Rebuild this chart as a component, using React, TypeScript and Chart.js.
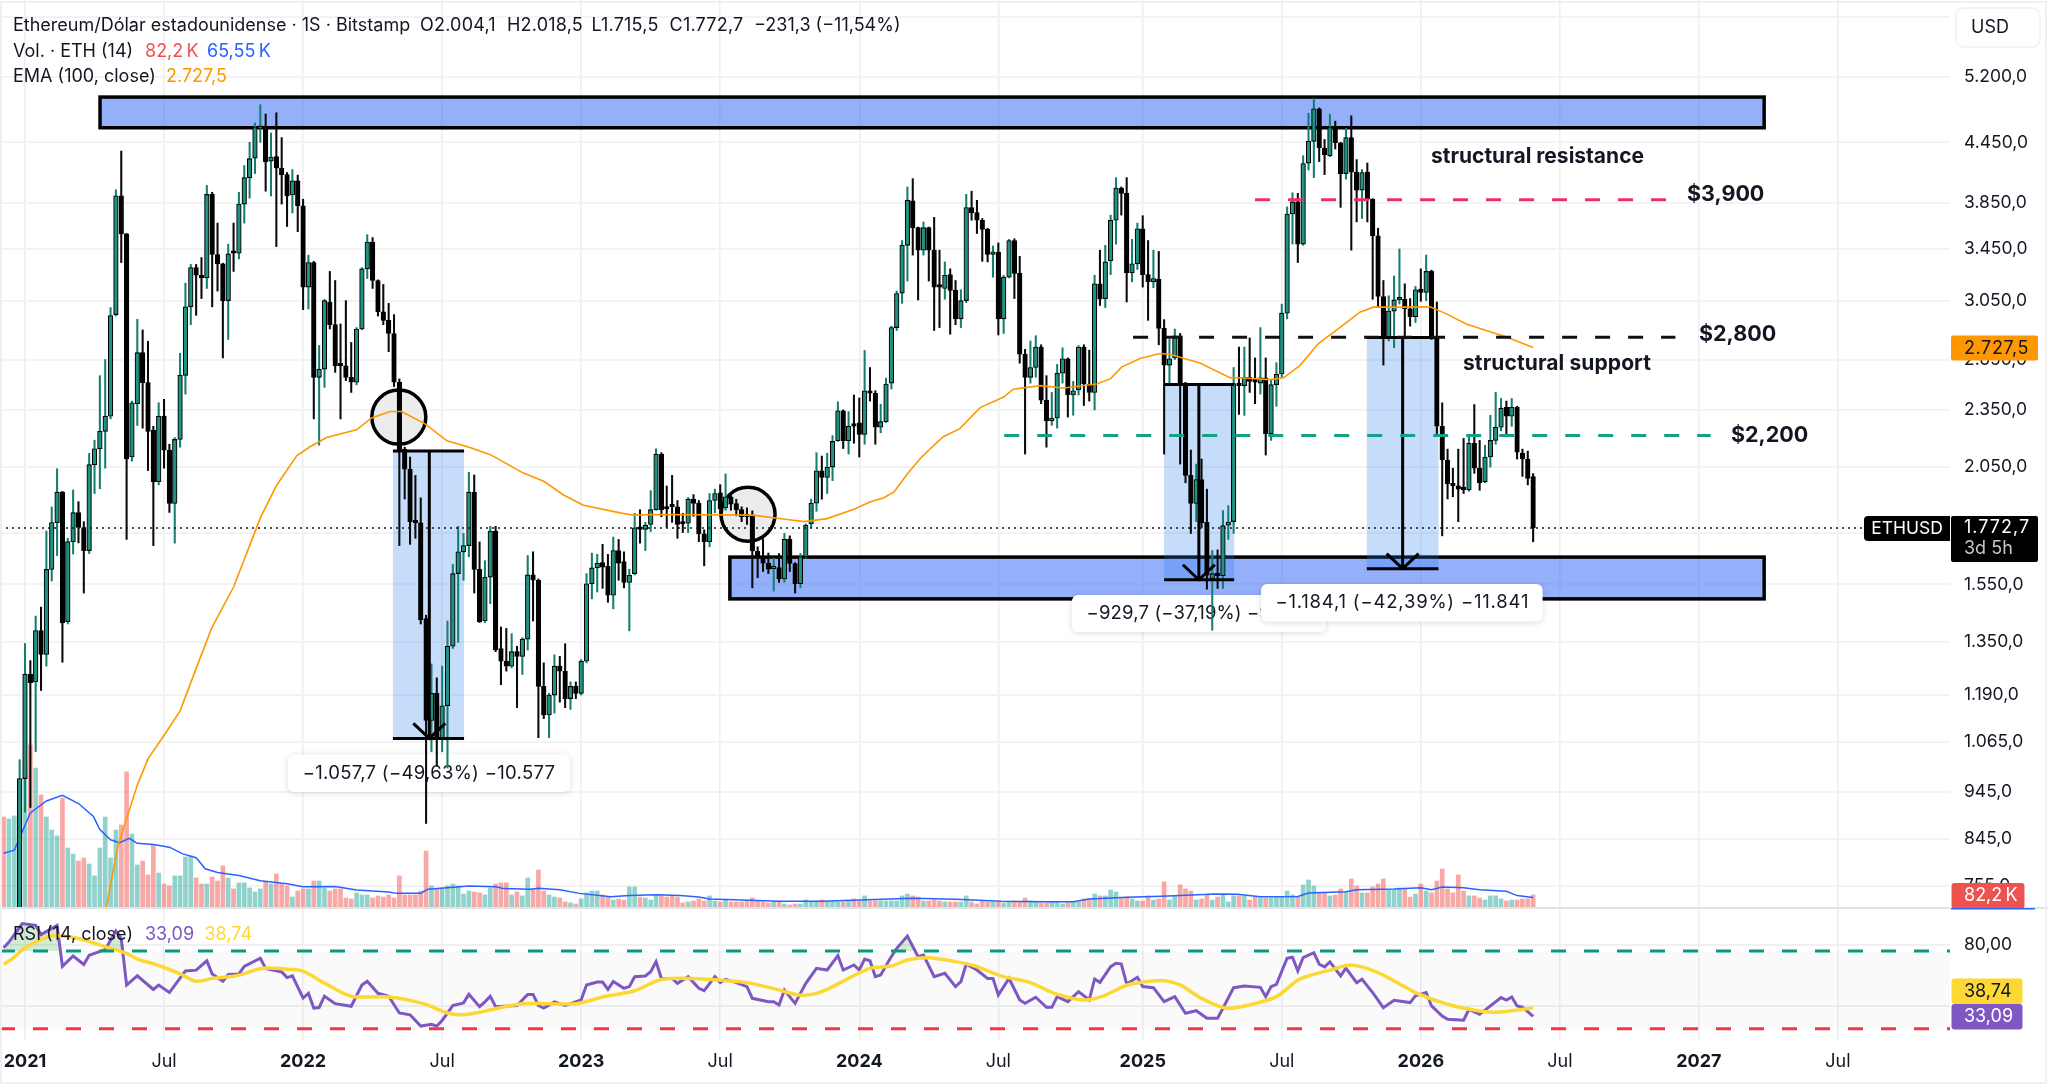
import React, { useEffect, useRef } from "react";
import { Chart, registerables } from "chart.js";

Chart.register(...registerables);

const firstWeek = "2020-12-07";
const tickDates = ["2021-01-04","2021-07-05","2022-01-03","2022-07-04","2023-01-02","2023-07-03","2024-01-01","2024-07-01","2025-01-06","2025-07-07","2026-01-05","2026-07-06","2027-01-04","2027-07-05"];
const tickLabels = ["2021","Jul","2022","Jul","2023","Jul","2024","Jul","2025","Jul","2026","Jul","2027","Jul"];
const priceTicks = [6000,5200,4450,3850,3450,3050,2650,2350,2050,1750,1550,1350,1190,1065,945,845,755];
const rsiTicks = [80,40];

const opens = [
600,585,640,683,975,1251,1228,1388,1311,1606,
1796,1931,1418,1716,1839,1775,1680,2062,2142,2233,
2315,2950,3917,3577,2100,2385,2694,2508,2240,1980,
2315,2135,1880,2190,2552,3005,3300,3240,3220,3930,
3405,3330,3050,3425,3415,3840,4090,4285,4600,4590,
4255,4300,4185,4120,3925,4060,3825,3150,3340,2540,
2590,3040,2880,2620,2610,2540,2510,2850,3290,3507,
3200,2970,2910,2820,2510,2140,2040,1803,1795,1428,
1120,1195,1075,1160,1337,1590,1675,1700,1931,1606,
1420,1577,1760,1330,1290,1275,1320,1305,1360,1585,
1565,1215,1135,1190,1275,1260,1180,1215,1195,1290,
1552,1612,1632,1618,1510,1680,1636,1557,1590,1774,
1767,1788,1852,2114,1860,1868,1865,1793,1793,1900,
1881,1748,1716,1893,1928,1860,1910,1879,1852,1830,
1830,1677,1655,1630,1609,1613,1570,1727,1629,1552,
1655,1790,1881,2032,2000,2050,2183,2345,2183,2275,
2278,2216,2460,2445,2255,2285,2505,2860,3105,3480,
3870,3630,3440,3630,3440,3155,3140,3245,3125,2920,
3050,3808,3763,3695,3615,3406,3425,2920,3225,3520,
3255,2684,2540,2600,2730,2405,2290,2305,2565,2655,
2435,2465,2730,2500,2450,3175,3065,3355,3695,3990,
3940,3260,3330,3620,3245,3190,3210,2855,2615,2660,
2805,2505,2010,1880,1990,1797,1572,1590,1582,1785,
1800,2503,2490,2540,2530,2505,2537,2220,2496,2560,
2960,3750,3860,3490,4235,4460,4820,4390,4310,4620,
4445,4130,4500,4145,3970,4145,3885,3560,3080,2790,
2975,3055,3060,2990,2935,3135,3110,3270,2790,2260,
2085,1970,1960,1948,1942,2170,2045,1980,2100,2185,
2255,2365,2315,2365,2120,2090,2004.1];
const closes = [
585,640,683,975,1251,1226,1388,1311,1606,1796,
1931,1414,1716,1839,1775,1680,2062,2142,2233,2315,
2943,3917,3577,2090,2390,2694,2508,2233,1980,2315,
2135,1880,2190,2552,3005,3300,3240,3220,3930,3405,
3330,3050,3410,3415,3840,4090,4280,4610,4612,4250,
4297,4185,4120,3915,4060,3825,3150,3340,2540,2590,
3050,2880,2610,2610,2540,2510,2850,3290,3507,3200,
2970,2910,2820,2510,2130,2040,1800,1795,1424,1120,
1195,1075,1160,1337,1590,1675,1700,1931,1606,1418,
1577,1760,1325,1290,1275,1320,1305,1360,1585,1565,
1215,1135,1190,1275,1260,1180,1215,1195,1290,1552,
1612,1630,1615,1510,1680,1630,1557,1584,1774,1767,
1785,1852,2114,1852,1855,1865,1788,1790,1899,1880,
1748,1716,1893,1925,1856,1910,1877,1852,1821,1821,
1679,1655,1630,1607,1613,1570,1726,1629,1552,1655,
1785,1881,2032,2000,2050,2180,2345,2183,2260,2260,
2216,2460,2445,2255,2285,2500,2860,3102,3480,3876,
3630,3440,3630,3440,3150,3150,3240,3125,2920,3050,
3808,3763,3695,3615,3406,3426,2920,3225,3520,3255,
2684,2540,2600,2730,2405,2290,2305,2565,2655,2435,
2460,2730,2500,2450,3175,3060,3345,3695,3990,3940,
3260,3330,3620,3245,3190,3215,2855,2615,2655,2805,
2505,2010,1880,1990,1795,1584,1590,1582,1783,1798,
2503,2490,2540,2515,2510,2537,2220,2496,2558,2960,
3750,3860,3490,4230,4460,4820,4390,4320,4610,4445,
4130,4500,4145,3970,4140,3885,3560,3080,2790,2975,
3055,3065,2990,2935,3130,3110,3270,2790,2260,2085,
1970,1960,1945,1943,2170,2045,1975,2100,2185,2255,
2360,2315,2365,2125,2090,1995,1772.7];
const highs = [
610,690,700,1020,1346,1292,1437,1468,1760,1864,
2042,1935,1730,1941,1888,1800,2118,2186,2550,2650,
3000,3973,4358,3580,2400,2917,2844,2768,2260,2390,
2410,2165,2200,2690,3180,3325,3325,3380,4015,3950,
3670,3335,3490,3670,3950,4210,4450,4660,4868,4760,
4550,4775,4500,4140,4170,4115,3885,3400,3350,2740,
3060,3270,3200,2885,3050,2760,2860,3300,3570,3545,
3205,3170,3030,2950,2530,2150,2100,2010,1905,1440,
1282,1240,1275,1420,1625,1780,1750,2025,2012,1715,
1640,1780,1780,1400,1395,1378,1337,1365,1660,1675,
1570,1285,1195,1310,1305,1345,1228,1228,1295,1590,
1670,1665,1705,1665,1735,1725,1675,1607,1836,1852,
1797,1938,2142,2122,1960,2010,1893,1836,1907,1920,
1893,1765,1925,1945,1966,2017,1920,1899,1865,1860,
1847,1695,1728,1670,1650,1668,1750,1740,1632,1668,
1790,1899,2122,2105,2119,2210,2396,2350,2340,2435,
2418,2708,2600,2460,2382,2535,2870,3120,3520,4000,
4080,3635,3680,3635,3720,3440,3345,3290,3200,3130,
3930,3960,3875,3710,3625,3475,3500,3240,3530,3535,
3390,2715,2770,2805,2745,2550,2450,2620,2725,2660,
2515,2740,2745,2710,3240,3440,3480,3740,4090,4000,
4090,3530,3670,3735,3520,3440,3430,2915,2780,2850,
2820,2510,2135,2065,2090,1945,1680,1683,1848,1870,
2600,2730,2730,2790,2660,2860,2660,2525,2630,3025,
3815,3945,3940,4310,4770,4940,4830,4480,4760,4680,
4450,4600,4740,4270,4170,4235,3890,3625,3200,3085,
3235,3450,3175,3065,3155,3290,3400,3280,3040,2390,
2140,2045,2140,2195,2205,2380,2185,2160,2320,2450,
2415,2400,2415,2370,2140,2130,2018.5];
const lows = [
530,580,560,670,900,910,1040,1203,1275,1562,
1660,1287,1410,1666,1711,1518,1668,1925,1947,2045,
2300,2940,3340,1725,2080,2264,2250,2033,1700,1965,
2045,1840,1710,2150,2440,2880,2945,3065,3140,3005,
3120,2660,2780,3270,3370,3670,3895,4130,4450,3960,
3915,3470,3840,3640,3760,3595,2985,2990,2300,2160,
2480,2850,2570,2300,2520,2450,2495,2845,3215,3140,
2940,2880,2700,2485,1700,1900,1705,1730,1410,876,
1040,1005,1040,1000,1330,1350,1565,1655,1518,1415,
1415,1480,1320,1220,1260,1270,1155,1250,1325,1420,
1075,1125,1075,1140,1170,1155,1150,1180,1190,1285,
1497,1522,1535,1485,1462,1565,1537,1387,1585,1710,
1680,1758,1850,1821,1776,1797,1730,1754,1754,1823,
1716,1620,1695,1838,1823,1850,1850,1825,1800,1788,
1537,1575,1598,1590,1525,1557,1557,1598,1518,1537,
1650,1774,1845,1899,1925,1985,2180,2143,2115,2170,
2100,2165,2400,2165,2225,2280,2470,2840,3030,3196,
3400,3055,3400,3196,2840,2860,3060,2815,2880,2860,
3035,3695,3580,3350,3345,3225,2810,2820,3220,3065,
2627,2115,2505,2540,2385,2150,2265,2250,2505,2310,
2320,2435,2375,2400,2350,3015,3000,3245,3490,3740,
3040,3190,3285,3150,2910,3145,2745,2115,2500,2650,
2065,1975,1750,1800,1775,1532,1389,1535,1535,1725,
1750,2325,2320,2450,2385,2440,2110,2185,2370,2540,
2920,3490,3340,3480,4165,4090,4250,4120,4300,4380,
3810,4075,3440,3680,3710,3680,3060,3005,2615,2770,
2725,3025,2790,2870,2895,3045,3050,2780,2220,1740,
1900,1910,1800,1925,1935,2020,1940,1975,2050,2165,
2235,2220,2260,2090,2005,1965,1715.5];
const volumesK = [
573,561,580,599,914,1027,882,712,573,491,
454,693,378,340,296,315,277,202,378,573,
315,491,523,857,466,271,296,208,397,220,
151,139,202,202,321,328,189,151,151,195,
170,265,189,120,158,158,126,101,120,164,
151,214,151,139,69,107,120,120,170,170,
126,107,120,120,63,57,95,82,82,63,
76,69,82,63,202,82,82,82,107,359,
139,120,120,139,151,139,88,107,101,95,
82,126,151,158,158,82,101,76,189,120,
239,107,82,69,63,38,32,25,57,95,
107,107,
82,69,50,57,50,132,132,69,63,50,
76,76,69,76,69,32,38,44,57,44,
76,44,38,50,38,38,38,44,63,44,
38,32,38,38,25,19,25,25,50,38,
38,50,38,38,38,38,44,57,44,76,
44,44,44,44,44,44,76,88,76,69,
44,44,50,44,38,38,38,38,76,38,
25,44,38,38,38,32,38,44,38,63,
44,38,32,32,38,38,25,32,38,38,
57,57,88,76,76,113,101,63,69,57,
44,44,76,50,57,164,50,76,145,120,
107,50,57,82,50,69,82,38,76,76,
76,50,69,63,63,63,69,69,107,82,
69,
145,176,139,95,95,76,82,120,101,183,
139,95,95,132,151,183,113,113,126,120,
69,88,151,107,95,170,246,120,95,208,
107,76,76,63,50,76,76,57,44,50,
50,57,57,82.2];

const volMaWeeks = [0,2,3.5,5,8,11,14,16.8,18,20,21.7,23.5,25,28,31,33.5,36,37.7,40,44,48,53,56,62,66,72,73.5,78,79.3,83.5,87,92,93.5,98.5,100,104,107.7,113.5,117,122,126.5,130,132,136.5,145,153,161.5,170,178,182.5,186.5,195,200,203,210,216.5,220,226.5,230.7,235,242,244,251,253,260,265,267,269,273,276,281,283,286];
const volMaK = [345,364,482,599,674,710,658,576,494,430,411,439,407,400,383,341,317,247,223,204,172,153,134,136,113,101,92,92,118,129,139,134,122,118,125,115,92,70,78,84,78,69,57,52,42,42,52,61,55,48,42,40,40,57,67,74,78,88,86,71,73,94,103,115,120,128,115,132,128,115,105,78,65.55];

const emaWeeks = [19.2,21.4,23.5,25,27,30.2,33,36.1,38.9,43,46,48,51,54.8,57.3,60.4,66,68.8,72.3,74.4,78.8,82.9,87.2,91,97.2,101,104.7,108.4,115.3,117.8,121.5,130.8,140,146.5,149.7,154,159,162,164.6,166.5,169,171.7,173.3,175.7,178.8,182.6,187,188.8,193.8,198.2,204.4,207,209.1,212.5,216.2,218,223.7,229.3,231.2,236.8,239.3,242.4,245.8,249.9,253.6,256.1,262.3,266.7,269.8,273.5,281,286];
const emaValues = [716,831,904,960,1022,1085,1146,1272,1396,1540,1700,1816,1961,2106,2152,2200,2241,2305,2341,2341,2273,2183,2148,2112,2021,1982,1918,1872,1838,1828,1831,1830,1828,1809,1800,1813,1854,1886,1906,1932,2018,2101,2143,2204,2247,2363,2423,2469,2490,2476,2500,2532,2604,2656,2688,2684,2628,2538,2537,2526,2537,2612,2751,2862,2967,3003,3003,3005,2955,2885,2796,2727.5];

const rsiWeeks = [0,1,3.5,6,7,10,11,13,15,16,19,21,22,23,25,28,29,31,34,36,38,39,41,42,44,45,48,49,52,53,54,56,57,58,59,60,62,65,67,68,70,72,74,76,78,80,81,82,84,86,87,89,90,91,92,96,98,99,100,101,103,105,106,108,109,111,112,113,114,116,117,118,120,121,122,123,125,126,128,130,131,133,134,135,137,139,140,143,144,145,146,148,150,152,154,156,157,159,160,161,162,163,164,166,167,169,171,172,174,176,178,179,180,182,184,185,186,188,190,191,193,195,196,197,199,201,203,204,205,207,208,209,210,212,213,215,217,219,221,223,225,227,228,230,232,235,236,237,238,240,241,242,243,245,246,247,248,250,251,253,254,256,258,260,263,264,266,267,269,270,273,274,276,280,281,282,283,284,286];
const rsiValues = [78.2,81.9,94.1,92.9,86.8,92.9,66,72.8,67.2,73.3,77,89.2,84.3,53.7,59.8,50.8,53.7,48.8,63,63.5,69.6,61,56.2,60.6,61,66,71.3,64.7,62.3,58.6,59.8,45.2,48.3,38.6,39,46.4,41.5,39.8,53.7,56.2,48.3,46.4,35.4,34.2,26.8,28,26.8,30.5,40.3,42,47.6,39.5,42.7,46.4,39.5,40.3,47.6,47.6,40.3,38.6,42.7,40.3,41.5,44,53.7,55.7,55.7,50.9,56,51.6,52.7,59.2,59.7,62.5,69.1,58.1,58.1,54.9,59.2,51.6,50,59.2,55.3,57.5,55.3,52.7,45,42.8,42.8,40.6,50.5,41.7,54.9,64.7,63.6,73,63.6,66.9,63.6,70.8,69.7,59.2,60.3,72.4,77.8,85.9,72.4,73.4,59.2,61.4,52.7,56,67.5,63.6,58.1,58.1,47.2,58.1,43.9,41.7,45.7,39.1,39.1,46.1,42.8,49.4,43.9,57.7,55.5,65.8,68,67.5,54.4,58.8,52.7,52,42.8,46.1,35.2,36.9,31.9,31.9,38.5,52,53.1,52.2,46.1,52.7,54.2,71.3,72,63,71.8,75,67.4,65.6,68.9,59.7,64.8,55.3,57.5,48.8,38.9,43.7,42.2,46.6,48.8,40,33.4,31.2,30.6,37.8,34.5,45.5,43.9,45.9,40,39.3,33.09];
const rsiMaWeeks = [0,2,4,9,14,18.5,23,25,28.5,33,36,39,43.5,48.5,53.5,56,60,65,72,78.5,83,86,90,97,107,112,118,123,130,135,139,145,149,153,158,162,166,169,173,178,181.5,186.5,192,196.5,202,205.7,210,215,217.5,220,224,228.6,233,238,242,244,248,252,257,264,270,276,280,286];
const rsiMaValues = [67.2,72.1,78.2,86,84.3,79.4,74.5,70.8,67.2,61,56.2,58.1,59.8,64.7,64,62.8,55,46.4,45.9,41.5,35.4,34.2,36.6,41.5,41.5,45.9,50,57.4,57.9,56.6,55.3,50.5,47,49.4,58.1,64.7,66.2,70.2,71.7,69.1,66.4,59.7,55.3,48.3,43.9,46.6,53.6,56.4,56.4,53.8,45,38.5,40.7,46.1,57.1,59.7,63.5,66.9,61.9,48.8,41.1,36.7,36,38.74];

const bandWeeks = [[18.03,329.2],[135.8,329.2]];
const bandPrices = [[4957,4607],[1654,1497]];
const measureWeeks = [[72.8,79.6,86.1],[217,223.5,230.1],[254.9,261.6,268.3]];
const measurePrices = [[2131,1073],[2497,1567],[2793,1609]];
const measureTexts = ["\u22121.057,7 (\u221249,63%) \u221210.577","\u2212929,7 (\u221237,19%) \u22129.297","\u22121.184,1 (\u221242,39%) \u221211.841"];
const circleWeeks = [73.9,139.2];
const circlePrices = [2310,1832];
const levelPrices = [3880,2794,2211];
const levelWeeks = [[234,310.9],[211.2,312.6],[187.1,319.2]];
const levelColors = ["#e9306e","#111111","#14a085"];
const levelTexts = ["$3,900","$2,800","$2,200"];
const rsiUpper = 76;
const rsiLower = 25;
const lastPrice = 1772.7;
const FONT = "Inter, 'Noto Sans', sans-serif";
const BAR_STEP = 5.348;
const X_AT_ZERO = 3.6;
const AREA_W = 1950;
const weekOf = (d: string) => Math.round((Date.parse(d) - Date.parse(firstWeek)) / 604800000);
const pts = (xs: number[], ys: number[]) => xs.map((x, i) => ({ x, y: ys[i] }));
const isUp = (i: number) => closes[i] >= opens[i];

function txt(c: CanvasRenderingContext2D, s: string, x: number, y: number, font: string, color: string, align: CanvasTextAlign = "left", spacing = 0) {
  c.font = font;
  c.fillStyle = color;
  c.textAlign = align;
  c.textBaseline = "middle";
  (c as any).letterSpacing = `${spacing}px`;
  c.fillText(s, x, y);
  (c as any).letterSpacing = "0px";
}
function tag(c: CanvasRenderingContext2D, x: number, y: number, w: number, h: number, r: number | number[], color: string) {
  c.fillStyle = color;
  c.beginPath();
  c.roundRect(x, y, w, h, r as any);
  c.fill();
}

const overlay = {
  id: "overlay",
  beforeDatasetsDraw(chart: any) {
    const c: CanvasRenderingContext2D = chart.ctx;
    const { x, y, yRsi } = chart.scales;
    c.save();
    c.fillStyle = "rgba(0,0,0,0.02)";
    const rt = yRsi.getPixelForValue(rsiUpper), rb = yRsi.getPixelForValue(rsiLower);
    c.fillRect(x.left, rt, x.right - x.left, rb - rt);
    bandWeeks.forEach((w, i) => {
      const l = x.getPixelForValue(w[0]), r = x.getPixelForValue(w[1]);
      const t = y.getPixelForValue(bandPrices[i][0]), b = y.getPixelForValue(bandPrices[i][1]);
      c.fillStyle = "rgba(41,98,245,0.5)";
      c.fillRect(l, t, r - l, b - t);
      c.strokeStyle = "#000";
      c.lineWidth = 3.5;
      c.strokeRect(l, t, r - l, b - t);
    });
    measureWeeks.forEach((w, i) => {
      const l = x.getPixelForValue(w[0]), r = x.getPixelForValue(w[2]);
      const t = y.getPixelForValue(measurePrices[i][0]), b = y.getPixelForValue(measurePrices[i][1]);
      c.fillStyle = "rgba(33,120,240,0.26)";
      c.fillRect(l, t, r - l, b - t);
    });
    circleWeeks.forEach((w, i) => {
      c.beginPath();
      c.arc(x.getPixelForValue(w), y.getPixelForValue(circlePrices[i]), 27, 0, Math.PI * 2);
      c.fillStyle = "#ececec";
      c.fill();
      c.strokeStyle = "#000";
      c.lineWidth = 3.5;
      c.stroke();
    });
    const boxes = [[288, 754.5, 282, 37.5, 14.7, 0.3], [1072, 595, 254, 37, 14.6, 0.15], [1261, 584, 281.6, 37.5, 14.4, 0.8]];
    boxes.forEach((b, i) => {
      c.save();
      c.shadowColor = "rgba(0,0,0,0.14)";
      c.shadowBlur = 7;
      c.shadowOffsetY = 1;
      tag(c, b[0], b[1], b[2], b[3], 6, "#ffffff");
      c.restore();
      txt(c, measureTexts[i], b[0] + b[4], b[1] + b[3] / 2, `18.5px ${FONT}`, "#131722", "left", b[5]);
    });
    c.restore();
  },
  afterDatasetsDraw(chart: any) {
    const c: CanvasRenderingContext2D = chart.ctx;
    const { x, y, yRsi } = chart.scales;
    c.save();
    c.lineCap = "butt";
    measureWeeks.forEach((w, i) => {
      const l = x.getPixelForValue(w[0]), m = x.getPixelForValue(w[1]), r = x.getPixelForValue(w[2]);
      const t = y.getPixelForValue(measurePrices[i][0]), b = y.getPixelForValue(measurePrices[i][1]);
      c.strokeStyle = "#000";
      c.lineWidth = 3;
      c.beginPath();
      c.moveTo(l, t); c.lineTo(r, t);
      c.moveTo(l, b); c.lineTo(r, b);
      c.moveTo(m, t); c.lineTo(m, b);
      c.moveTo(m - 16, b - 15); c.lineTo(m, b); c.lineTo(m + 16, b - 15);
      c.stroke();
    });
    levelPrices.forEach((p, i) => {
      c.strokeStyle = levelColors[i];
      c.lineWidth = 3;
      c.setLineDash([15, 18]);
      c.beginPath();
      c.moveTo(x.getPixelForValue(levelWeeks[i][0]), y.getPixelForValue(p));
      c.lineTo(x.getPixelForValue(levelWeeks[i][1]), y.getPixelForValue(p));
      c.stroke();
    });
    [[rsiUpper, "#089981"], [rsiLower, "#f23645"]].forEach(([v, col]) => {
      c.strokeStyle = col as string;
      c.lineWidth = 3;
      c.setLineDash([15, 18]);
      c.beginPath();
      c.moveTo(x.left, yRsi.getPixelForValue(v));
      c.lineTo(x.right, yRsi.getPixelForValue(v));
      c.stroke();
    });
    const ly = y.getPixelForValue(lastPrice);
    c.strokeStyle = "#131722";
    c.lineWidth = 1.5;
    c.setLineDash([2, 4]);
    c.beginPath();
    c.moveTo(0, ly);
    c.lineTo(1864, ly);
    c.stroke();
    c.setLineDash([]);

    const bold = `700 21px ${FONT}`;
    txt(c, "structural resistance", 1431, 157, bold, "#131722");
    txt(c, "structural support", 1463, 363.5, bold, "#131722", "left", 0.1);
    const boldBig = `700 21.5px ${FONT}`;
    txt(c, levelTexts[0], 1687, 195, boldBig, "#131722");
    txt(c, levelTexts[1], 1699, 335, boldBig, "#131722");
    txt(c, levelTexts[2], 1731, 436, boldBig, "#131722");

    const f = `18px ${FONT}`;
    txt(c, "Ethereum/D\u00f3lar estadounidense \u00b7 1S \u00b7 Bitstamp", 13, 26, f, "#131722");
    txt(c, "O2.004,1", 420, 26, f, "#131722", "left", 0.2);
    txt(c, "H2.018,5", 507, 26, f, "#131722", "left", 0.2);
    txt(c, "L1.715,5", 591.5, 26, f, "#131722", "left", 0.2);
    txt(c, "C1.772,7", 669.6, 26, f, "#131722", "left", 0.2);
    txt(c, "\u2212231,3 (\u221211,54%)", 754, 26, f, "#131722");
    txt(c, "Vol. \u00b7 ETH (14)", 13, 51.5, f, "#131722");
    txt(c, "82,2\u2009K", 145, 51.5, f, "#ef5350");
    txt(c, "65,55\u2009K", 207, 51.5, f, "#2962ff");
    txt(c, "EMA (100, close)", 13, 77, f, "#131722");
    txt(c, "2.727,5", 166, 77, f, "#ff9800");
    txt(c, "RSI (14, close)", 13, 935, f, "#131722");
    txt(c, "33,09", 145, 935, f, "#7e57c2");
    txt(c, "38,74", 204.5, 935, f, "#fdd835");

    c.fillStyle = "#e3e3e6";
    c.fillRect(0, 907, 2048, 2);
    c.strokeStyle = "#f0f0f2";
    c.lineWidth = 2;
    c.strokeRect(1, 2, 2045, 1081);

    c.fillStyle = "#fff";
    c.strokeStyle = "#f0f0f3";
    c.lineWidth = 1.5;
    c.beginPath();
    c.roundRect(1956, 8, 84, 39, 8);
    c.fill();
    c.stroke();
    txt(c, "USD", 1971, 28, `18px ${FONT}`, "#131722");

    const tagFont = `18px ${FONT}`;
    tag(c, 1951, 335.5, 87, 25, 2, "#ff9800");
    txt(c, "2.727,5", 1964, 348.5, tagFont, "#131722", "left", 0.6);
    tag(c, 1864, 516, 86, 25, [4, 0, 0, 4], "#000");
    txt(c, "ETHUSD", 1907, 529, `17.5px ${FONT}`, "#fff", "center");
    tag(c, 1951, 516, 87, 46, 2, "#000");
    txt(c, "1.772,7", 1964, 528, tagFont, "#fff", "left", 1);
    txt(c, "3d 5h", 1964, 549, tagFont, "#c4c4c8");
    tag(c, 1951.5, 883, 73, 25.5, 3, "#ef5350");
    txt(c, "82,2\u2009K", 1964, 896, tagFont, "#fff");
    c.fillStyle = "#2962ff";
    c.fillRect(1951, 908, 84, 1.5);
    tag(c, 1951.5, 978.5, 71, 25.5, 3, "#fdd835");
    txt(c, "38,74", 1964, 991.5, tagFont, "#131722");
    tag(c, 1951.5, 1004, 71, 25.5, 3, "#7e57c2");
    txt(c, "33,09", 1964, 1017, tagFont, "#fff");
    c.restore();
  },
};

function buildConfig(): any {
  const index = opens.map((_, i) => i);
  const zeroPadding = (ax: any) => {
    ax.paddingTop = 0;
    ax.paddingBottom = 0;
    ax.paddingLeft = 0;
    ax.paddingRight = 0;
  };
  const rightAxis = (ax: any) => {
    ax.width = 98;
    zeroPadding(ax);
  };
  const tickFont = { family: FONT, size: 17.5 };
  return {
    type: "bar",
    plugins: [overlay],
    data: {
      datasets: [
        {
          label: "Vol",
          type: "bar",
          xAxisID: "x",
          yAxisID: "yVol",
          order: 60,
          data: index.map((i) => ({ x: i, y: volumesK[i] })),
          barThickness: 4,
          grouped: false,
          backgroundColor: (ctx: any) => (isUp(ctx.dataIndex) ? "rgba(38,166,154,0.5)" : "rgba(239,83,80,0.5)"),
        },
        {
          label: "Vol MA",
          type: "line",
          xAxisID: "x",
          yAxisID: "yVol",
          order: 50,
          data: pts(volMaWeeks, volMaK),
          borderColor: "#2962ff",
          borderWidth: 1.5,
          pointRadius: 0,
          tension: 0,
        },
        {
          label: "Wicks",
          type: "bar",
          xAxisID: "x",
          yAxisID: "y",
          order: 40,
          data: index.map((i) => ({ x: i, y: [lows[i], highs[i]] })),
          barThickness: 1.4,
          grouped: false,
          backgroundColor: (ctx: any) => (isUp(ctx.dataIndex) ? "#157f6e" : "#0a0a0a"),
        },
        {
          label: "Bodies",
          type: "bar",
          xAxisID: "x",
          yAxisID: "y",
          order: 30,
          data: index.map((i) => ({ x: i, y: [Math.min(opens[i], closes[i]), Math.max(opens[i], closes[i])] })),
          barThickness: 4.6,
          grouped: false,
          minBarLength: 2.5,
          backgroundColor: (ctx: any) => (isUp(ctx.dataIndex) ? "#1f9281" : "#000000"),
          borderColor: "#000000",
          borderWidth: 1.1,
          borderSkipped: false,
        },
        {
          label: "EMA",
          type: "line",
          xAxisID: "x",
          yAxisID: "y",
          order: 20,
          data: pts(emaWeeks, emaValues),
          borderColor: "#ff9800",
          borderWidth: 1.6,
          pointRadius: 0,
          tension: 0,
        },
        {
          label: "RSI MA",
          type: "line",
          xAxisID: "x",
          yAxisID: "yRsi",
          order: 10,
          data: pts(rsiMaWeeks, rsiMaValues),
          borderColor: "#fdd835",
          borderWidth: 3.5,
          pointRadius: 0,
          tension: 0.3,
        },
        {
          label: "RSI",
          type: "line",
          xAxisID: "x",
          yAxisID: "yRsi",
          order: 12,
          data: pts(rsiWeeks, rsiValues),
          borderColor: "#7e57c2",
          borderWidth: 3,
          pointRadius: 0,
          tension: 0,
          fill: { target: { value: rsiUpper }, above: "rgba(76,175,80,0.25)", below: "rgba(0,0,0,0)" },
        },
      ],
    },
    options: {
      responsive: false,
      animation: false,
      events: [],
      layout: { padding: 0 },
      plugins: { legend: { display: false }, tooltip: { enabled: false }, title: { display: false } },
      scales: {
        x: {
          type: "linear",
          position: "bottom",
          offset: false,
          min: -X_AT_ZERO / BAR_STEP,
          max: (AREA_W - X_AT_ZERO) / BAR_STEP,
          border: { display: false },
          grid: { offset: false, color: "#eeeef0", lineWidth: 1.5, drawTicks: false },
          afterBuildTicks: (ax: any) => {
            ax.ticks = tickDates.map((d) => ({ value: weekOf(d) }));
          },
          afterFit: (ax: any) => {
            ax.height = 44;
            zeroPadding(ax);
          },
          ticks: {
            autoSkip: false,
            maxRotation: 0,
            padding: 10,
            color: "#131722",
            callback: (_v: any, i: number) => tickLabels[i],
            font: (ctx: any) => ({ family: FONT, size: 18, weight: ctx.index % 2 === 0 ? "700" : "400" }),
          },
        },
        y: {
          type: "logarithmic",
          position: "right",
          stack: "right",
          stackWeight: 908,
          min: 716,
          max: 6249,
          border: { display: false },
          grid: { color: "#f3f3f4", lineWidth: 2, drawTicks: false },
          afterBuildTicks: (ax: any) => {
            ax.ticks = priceTicks.map((value) => ({ value }));
          },
          afterFit: rightAxis,
          ticks: {
            autoSkip: false,
            padding: 14,
            crossAlign: "near",
            color: "#131722",
            font: tickFont,
            callback: (v: number) => v.toLocaleString("de-DE", { minimumFractionDigits: 1, maximumFractionDigits: 1 }),
          },
        },
        yRsi: {
          type: "linear",
          position: "right",
          stack: "right",
          stackWeight: 133,
          min: 17,
          max: 104.3,
          border: { display: false },
          grid: { color: "#f0f0f1", lineWidth: 2, drawTicks: false },
          afterBuildTicks: (ax: any) => {
            ax.ticks = rsiTicks.map((value) => ({ value }));
          },
          afterFit: rightAxis,
          ticks: {
            autoSkip: false,
            padding: 14,
            crossAlign: "near",
            color: "#131722",
            font: tickFont,
            callback: (v: number) => v.toLocaleString("de-DE", { minimumFractionDigits: 2, maximumFractionDigits: 2 }),
          },
        },
        yVol: {
          type: "linear",
          display: false,
          position: "right",
          min: -838,
          max: 5720,
        },
      },
    },
  };
}

export default function App() {
  const ref = useRef<HTMLCanvasElement>(null);
  useEffect(() => {
    document.body.style.margin = "0";
    const chart = new Chart(ref.current as HTMLCanvasElement, buildConfig());
    return () => chart.destroy();
  }, []);
  return (
    <div style={{ position: "absolute", left: 0, top: 0, width: 2048, height: 1085, background: "#fff" }}>
      <canvas ref={ref} width={2048} height={1085} style={{ display: "block" }} />
    </div>
  );
}
